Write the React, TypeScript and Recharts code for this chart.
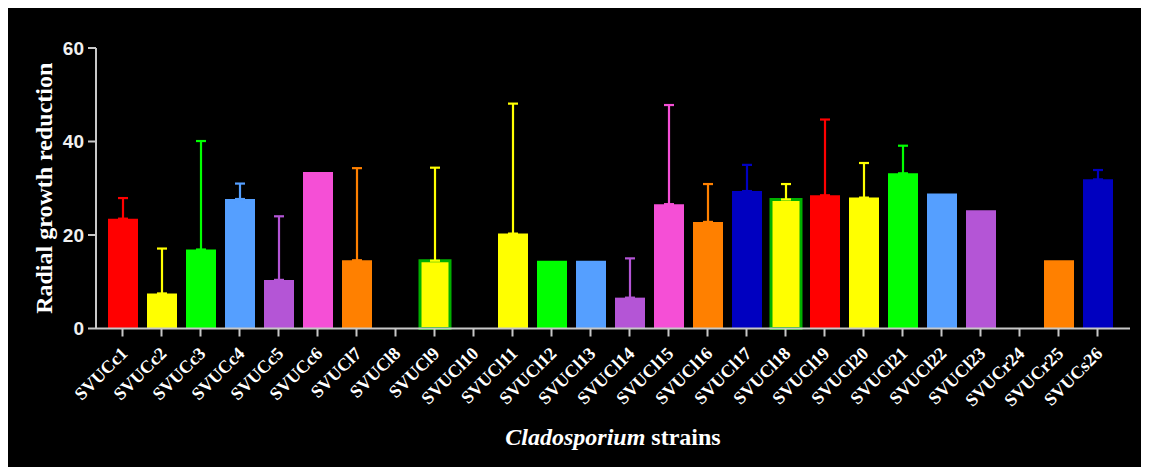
import React from 'react';
import { BarChart, Bar, XAxis, YAxis, Cell, ErrorBar } from 'recharts';

const strains = [
  'SVUCc1', 'SVUCc2', 'SVUCc3', 'SVUCc4', 'SVUCc5', 'SVUCc6', 'SVUCl7', 'SVUCl8', 'SVUCl9',
  'SVUCl10', 'SVUCl11', 'SVUCl12', 'SVUCl13', 'SVUCl14', 'SVUCl15', 'SVUCl16', 'SVUCl17',
  'SVUCl18', 'SVUCl19', 'SVUCl20', 'SVUCl21', 'SVUCl22', 'SVUCl23', 'SVUCr24', 'SVUCr25', 'SVUCs26',
];

const means = [
  23.5, 7.5, 16.9, 27.7, 10.4, 33.5, 14.6, 0, 14.5,
  0, 20.3, 14.5, 14.5, 6.6, 26.6, 22.8, 29.4,
  27.6, 28.5, 28.0, 33.2, 28.9, 25.3, 0, 14.6, 31.9,
];

const upperErrors = [
  4.4, 9.6, 23.2, 3.3, 13.6, 0, 19.7, 0, 19.9,
  0, 27.8, 0, 0, 8.4, 21.2, 8.1, 5.6,
  3.3, 16.2, 7.4, 5.9, 0, 0, 0, 0, 2.0,
];

const colorKeys = [
  'red', 'yellow', 'green', 'lblue', 'purple', 'pink', 'orange', 'dblue', 'yellow',
  'green', 'yellow', 'green', 'lblue', 'purple', 'pink', 'orange', 'dblue',
  'yellow', 'red', 'yellow', 'green', 'lblue', 'purple', 'pink', 'orange', 'dblue',
];

const borderedStrains = ['SVUCl9', 'SVUCl18'];

const palette: Record<string, string> = {
  red: '#FF0000',
  yellow: '#FFFF00',
  green: '#00FF00',
  lblue: '#559FFF',
  purple: '#B455D6',
  pink: '#F54FD6',
  orange: '#FF8000',
  dblue: '#0000C0',
};

const yTicks = [0, 20, 40, 60];

const data = strains.map((name, i) => {
  const row: Record<string, any> = { name, value: means[i] };
  if (upperErrors[i] > 0) {
    row['err_' + colorKeys[i]] = [0, upperErrors[i]];
  }
  return row;
});

const axisColor = '#C8C8C8';
const serif = "'Liberation Serif', 'Times New Roman', serif";

const XTitle = (props: any) => {
  const vb = props.viewBox || {};
  return (
    <text
      x={vb.x + vb.width / 2}
      y={vb.y + vb.height - 22}
      textAnchor="middle"
      fill="#FFFFFF"
      style={{ fontSize: 24, fontWeight: 'bold', fontFamily: serif }}
    >
      <tspan fontStyle="italic">Cladosporium</tspan>
      <tspan> strains</tspan>
    </text>
  );
};

export default function App() {
  return (
    <div style={{ width: 1135, height: 459, background: '#000000' }}>
      <BarChart
        width={1135}
        height={459}
        data={data}
        margin={{ top: 40, right: 13, left: 28, bottom: 0 }}
      >
        <XAxis
          dataKey="name"
          interval={0}
          height={138.5}
          padding={{ left: 7, right: 13 }}
          axisLine={{ stroke: axisColor, strokeWidth: 2 }}
          tickLine={{ stroke: axisColor, strokeWidth: 2 }}
          tickSize={8}
          tickMargin={9}
          angle={-45}
          textAnchor="end"
          tick={{ fill: '#FFFFFF', fontSize: 18, fontWeight: 'bold', fontFamily: serif, dx: -3 }}
          label={{ position: 'insideBottom', content: (p: any) => <XTitle {...p} /> }}
        />
        <YAxis
          width={60}
          domain={[0, 60]}
          ticks={yTicks}
          interval={0}
          axisLine={{ stroke: axisColor, strokeWidth: 2 }}
          tickLine={{ stroke: axisColor, strokeWidth: 2 }}
          tickSize={8}
          tickMargin={4}
          tick={{
            fill: '#F0F0F0',
            fontSize: 19,
            fontWeight: 'bold',
            fontFamily: "'Liberation Sans', Arial, sans-serif",
          }}
          label={{
            value: 'Radial growth reduction',
            angle: -90,
            position: 'center',
            dx: -23,
            fill: '#FFFFFF',
            fontSize: 24,
            fontWeight: 'bold',
            fontFamily: serif,
          }}
        />
        <Bar dataKey="value" barSize={30} isAnimationActive={false}>
          {data.map((d, i) => {
            const bordered = borderedStrains.includes(strains[i]);
            return (
              <Cell
                key={d.name}
                fill={palette[colorKeys[i]]}
                stroke={bordered ? '#00B000' : 'none'}
                strokeWidth={bordered ? 3 : 0}
              />
            );
          })}
          {Object.keys(palette).map((k) => (
            <ErrorBar
              key={k}
              dataKey={'err_' + k}
              direction="y"
              width={5}
              stroke={palette[k]}
              strokeWidth={2.2}
              isAnimationActive={false}
            />
          ))}
        </Bar>
      </BarChart>
    </div>
  );
}
